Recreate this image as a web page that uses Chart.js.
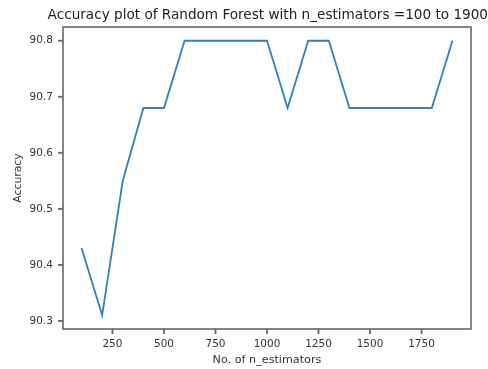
<!DOCTYPE html>
<html>
<head>
<meta charset="utf-8">
<script src="https://cdn.jsdelivr.net/npm/chart.js@4/dist/chart.umd.min.js"></script>
<style>
  html, body { margin: 0; padding: 0; background: #fff; }
  #wrap { width: 488px; height: 369px; }
</style>
</head>
<body>
<div id="wrap"><canvas id="accChart"></canvas></div>
<script>
const nEstimators = [100, 200, 300, 400, 500, 600, 700, 800, 900, 1000, 1100, 1200, 1300, 1400, 1500, 1600, 1700, 1800, 1900];
const accuracy = [90.43, 90.31, 90.55, 90.68, 90.68, 90.80, 90.80, 90.80, 90.80, 90.80, 90.68, 90.80, 90.80, 90.68, 90.68, 90.68, 90.68, 90.68, 90.80];
const xTicks = [250, 500, 750, 1000, 1250, 1500, 1750];
const yTicks = [90.3, 90.4, 90.5, 90.6, 90.7, 90.8];

Chart.defaults.font.family = "'DejaVu Sans', sans-serif";
Chart.defaults.color = '#333';

// axes box and outward tick marks, matplotlib style
const frame = {
    id: 'frame',
    afterDraw(chart) {
        const { ctx, chartArea: a, scales } = chart;
        ctx.save();
        ctx.strokeStyle = '#666';
        ctx.lineWidth = 1.6;
        ctx.strokeRect(a.left, a.top, a.right - a.left, a.bottom - a.top);
        ctx.lineWidth = 1.8;
        for (const v of xTicks) {
            const px = scales.x.getPixelForValue(v);
            ctx.beginPath();
            ctx.moveTo(px, a.bottom);
            ctx.lineTo(px, a.bottom + 5);
            ctx.stroke();
        }
        for (const v of yTicks) {
            const py = scales.y.getPixelForValue(v);
            ctx.beginPath();
            ctx.moveTo(a.left, py);
            ctx.lineTo(a.left - 5, py);
            ctx.stroke();
        }
        ctx.restore();
    }
};

const noGrid = { display: false, drawTicks: false, tickLength: 0 };

new Chart(document.getElementById('accChart').getContext('2d'), {
    type: 'line',
    data: {
        datasets: [{
            label: 'Accuracy',
            data: nEstimators.map((n, i) => ({ x: n, y: accuracy[i] })),
            borderColor: '#3580b4',
            borderWidth: 1.8,
            pointRadius: 0,
            tension: 0,
            fill: false
        }]
    },
    options: {
        responsive: true,
        maintainAspectRatio: false,
        animation: false,
        layout: { padding: 0 },
        plugins: {
            legend: { display: false },
            tooltip: { enabled: false },
            title: {
                display: true,
                text: 'Accuracy plot of Random Forest with n_estimators =100 to 1900',
                align: 'end',
                color: '#222',
                font: { size: 13.6, weight: 'normal' },
                padding: { top: 7, bottom: 3.7 }
            }
        },
        scales: {
            x: {
                type: 'linear',
                min: 10, max: 1990,
                afterBuildTicks: s => { s.ticks = xTicks.map(v => ({ value: v })); },
                afterFit: s => { s.height = 40; },
                grid: noGrid,
                border: { display: false },
                ticks: { font: { size: 10.5 }, padding: 9, maxRotation: 0, callback: v => String(v) },
                title: { display: true, text: 'No. of n_estimators', font: { size: 11.2 }, padding: { top: 0, bottom: 2 } }
            },
            y: {
                min: 90.2855, max: 90.8245,
                afterBuildTicks: s => { s.ticks = yTicks.map(v => ({ value: v })); },
                afterFit: s => { s.width = 63; },
                grid: noGrid,
                border: { display: false },
                ticks: { font: { size: 10.5 }, padding: 10, callback: v => v.toFixed(1) },
                title: { display: true, text: 'Accuracy', font: { size: 10.8 }, padding: { top: 12, bottom: 0 } }
            },
            y2: {
                position: 'right',
                display: true,
                afterFit: s => { s.width = 17; },
                grid: noGrid,
                border: { display: false },
                ticks: { display: false }
            }
        }
    },
    plugins: [frame]
});
</script>
</body>
</html>
